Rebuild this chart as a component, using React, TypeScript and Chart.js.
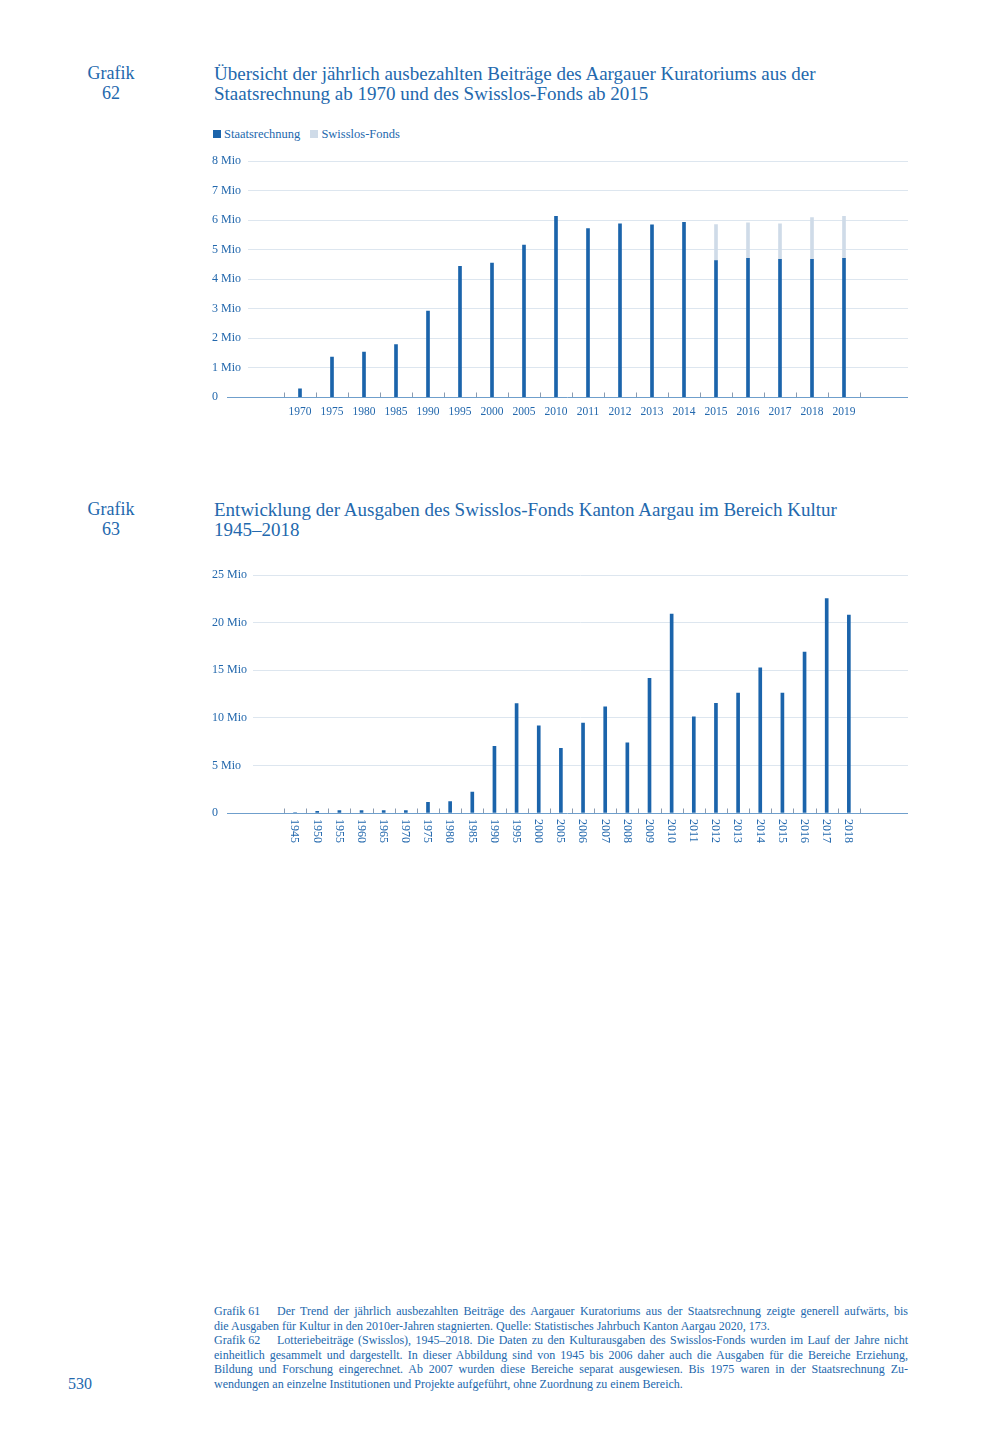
import { useEffect, useRef } from 'react';
import { Chart, registerables } from 'chart.js';

Chart.register(...registerables);

const FONT = '"Liberation Serif", "Times New Roman", serif';
const BLUE = '#1b64ab';
const TEXT = '#2368ad';
const LIGHT = '#cfdbe8';
const GRID = '#dde6ef';
const AXIS = '#6f9fcc';
const TICK = '#8a9bb0';

// Grafik 62: Beiträge in Mio CHF
const years62 = ['1970', '1975', '1980', '1985', '1990', '1995', '2000', '2005', '2010',
  '2011', '2012', '2013', '2014', '2015', '2016', '2017', '2018', '2019'];
const staatsrechnung = [0.28, 1.36, 1.53, 1.78, 2.92, 4.44, 4.55, 5.16, 6.13,
  5.72, 5.88, 5.84, 5.93, 4.63, 4.71, 4.67, 4.67, 4.71];
const swisslosFonds = [null, null, null, null, null, null, null, null, null,
  null, null, null, null, 1.22, 1.2, 1.21, 1.42, 1.42];
const yMax62 = 8;
const xRange62 = [-1.625, 19];

// Grafik 63: Ausgaben Swisslos-Fonds Kultur in Mio CHF
const years63 = ['1945', '1950', '1955', '1960', '1965', '1970', '1975', '1980', '1985', '1990',
  '1995', '2000', '2005', '2006', '2007', '2008', '2009', '2010', '2011', '2012', '2013',
  '2014', '2015', '2016', '2017', '2018'];
const ausgaben63 = [0.05, 0.18, 0.25, 0.25, 0.25, 0.25, 1.12, 1.19, 2.2, 7.0,
  11.5, 9.17, 6.8, 9.45, 11.17, 7.39, 14.15, 20.9, 10.12, 11.52, 12.6,
  15.27, 12.6, 16.91, 22.55, 20.8];
const yMax63 = 25;
const xRange63 = [-1.9, 27.67];

const mio = (v: number) => (v === 0 ? '0' : `${v} Mio`);

// baseline from under the "0" label and small marks between the categories
function axisMarks(baseOffset: number, count: number) {
  return {
    id: 'axisMarks',
    afterDatasetsDraw(chart: any) {
      const { ctx, chartArea } = chart;
      const xs = chart.scales.x;
      const y0 = Math.round(chart.scales.y.getPixelForValue(0)) + 0.5;
      ctx.save();
      ctx.lineWidth = 1;
      ctx.strokeStyle = TICK;
      for (let i = 0; i <= count; i++) {
        const x = Math.round(xs.getPixelForValue(i - 0.5)) + 0.5;
        ctx.beginPath();
        ctx.moveTo(x, y0);
        ctx.lineTo(x, y0 - 5);
        ctx.stroke();
      }
      ctx.strokeStyle = AXIS;
      ctx.beginPath();
      ctx.moveTo(chartArea.left - baseOffset, y0);
      ctx.lineTo(chartArea.right, y0);
      ctx.stroke();
      ctx.restore();
    },
  };
}

// vertical year labels, reading downwards
const verticalLabels = {
  id: 'verticalLabels',
  afterDraw(chart: any) {
    const { ctx } = chart;
    const xs = chart.scales.x;
    const y0 = chart.scales.y.getPixelForValue(0);
    ctx.save();
    ctx.font = `12px ${FONT}`;
    ctx.fillStyle = TEXT;
    ctx.textAlign = 'left';
    ctx.textBaseline = 'middle';
    years63.forEach((label, i) => {
      ctx.save();
      ctx.translate(xs.getPixelForValue(i) - 0.5, y0 + 6);
      ctx.rotate(Math.PI / 2);
      ctx.fillText(label, 0, 0);
      ctx.restore();
    });
    ctx.restore();
  },
};

function yAxis(max: number, step: number, width: number) {
  return {
    min: 0,
    max,
    border: { display: false },
    grid: {
      drawTicks: false,
      color: (c: any) => (c.tick && c.tick.value === 0 ? 'rgba(0,0,0,0)' : GRID),
    },
    ticks: {
      stepSize: step,
      crossAlign: 'far' as const,
      padding: 0,
      color: TEXT,
      font: { family: FONT, size: 12 },
      callback: (v: any) => mio(Number(v)),
    },
    afterFit: (s: any) => {
      s.width = width;
    },
  };
}

function Chart62() {
  const ref = useRef<HTMLCanvasElement>(null);
  useEffect(() => {
    if (!ref.current) return;
    const chart = new Chart(ref.current, {
      type: 'bar',
      data: {
        datasets: [
          {
            label: 'Staatsrechnung',
            data: staatsrechnung.map((v, i) => ({ x: i, y: v })),
            backgroundColor: BLUE,
            barThickness: 3,
          },
          {
            label: 'Swisslos-Fonds',
            data: swisslosFonds.map((v, i) => ({ x: i, y: v })),
            backgroundColor: LIGHT,
            barThickness: 3,
          },
        ],
      },
      options: {
        animation: false,
        responsive: true,
        maintainAspectRatio: false,
        layout: { padding: { left: 0, right: 4, top: 0, bottom: 0 } },
        plugins: { legend: { display: false }, tooltip: { enabled: false } },
        scales: {
          x: {
            type: 'linear',
            offset: false,
            stacked: true,
            min: xRange62[0],
            max: xRange62[1],
            border: { display: false },
            grid: { display: false, drawTicks: false },
            afterBuildTicks: (s: any) => {
              s.ticks = years62.map((_, i) => ({ value: i }));
            },
            ticks: {
              autoSkip: false,
              maxRotation: 0,
              padding: 8,
              color: TEXT,
              font: { family: FONT, size: 11.5 },
              callback: (v: any) => years62[v] ?? '',
            },
          },
          y: { ...yAxis(yMax62, 1, 36), stacked: true },
        },
      },
      plugins: [axisMarks(21, years62.length)],
    });
    return () => chart.destroy();
  }, []);
  return <canvas ref={ref} />;
}

function Chart63() {
  const ref = useRef<HTMLCanvasElement>(null);
  useEffect(() => {
    if (!ref.current) return;
    const chart = new Chart(ref.current, {
      type: 'bar',
      data: {
        datasets: [
          {
            label: 'Ausgaben Kultur',
            data: ausgaben63.map((v, i) => ({ x: i, y: v })),
            backgroundColor: BLUE,
            barThickness: 3,
          },
        ],
      },
      options: {
        animation: false,
        responsive: true,
        maintainAspectRatio: false,
        layout: { padding: { left: 0, right: 4, top: 0, bottom: 0 } },
        plugins: { legend: { display: false }, tooltip: { enabled: false } },
        scales: {
          x: {
            type: 'linear',
            offset: false,
            min: xRange63[0],
            max: xRange63[1],
            border: { display: false },
            grid: { display: false, drawTicks: false },
            ticks: { display: false },
            afterFit: (s: any) => {
              s.height = 34;
            },
          },
          y: yAxis(yMax63, 5, 41),
        },
      },
      plugins: [axisMarks(26, years63.length), verticalLabels],
    });
    return () => chart.destroy();
  }, []);
  return <canvas ref={ref} />;
}

const abs = (left: number, top: number, extra: any = {}) => ({
  position: 'absolute' as const,
  left,
  top,
  ...extra,
});

function Heading({ top, num, lines }: { top: number; num: string; lines: string[] }) {
  return (
    <>
      <div style={abs(80, top, { width: 62, textAlign: 'center', fontSize: 18, lineHeight: '19.5px' })}>
        Grafik
        <br />
        {num}
      </div>
      <div style={abs(214, top, { fontSize: 19, lineHeight: '19.5px', whiteSpace: 'nowrap' })}>
        {lines.map((l) => (
          <div key={l}>{l}</div>
        ))}
      </div>
    </>
  );
}

function LegendItem({ color, label }: { color: string; label: string }) {
  return (
    <span style={{ display: 'inline-flex', alignItems: 'center', marginRight: 10 }}>
      <span style={{ width: 8, height: 8, background: color, marginRight: 3, display: 'inline-block' }} />
      {label}
    </span>
  );
}

const captionLines: [string, string, boolean][] = [
  ['Grafik 61', 'Der Trend der jährlich ausbezahlten Beiträge des Aargauer Kuratoriums aus der Staatsrechnung zeigte generell aufwärts, bis', true],
  ['', 'die Ausgaben für Kultur in den 2010er-Jahren stagnierten. Quelle: Statistisches Jahrbuch Kanton Aargau 2020, 173.', false],
  ['Grafik 62', 'Lotteriebeiträge (Swisslos), 1945–2018. Die Daten zu den Kulturausgaben des Swisslos-Fonds wurden im Lauf der Jahre nicht', true],
  ['', 'einheitlich gesammelt und dargestellt. In dieser Abbildung sind von 1945 bis 2006 daher auch die Ausgaben für die Bereiche Erziehung,', true],
  ['', 'Bildung und Forschung eingerechnet. Ab 2007 wurden diese Bereiche separat ausgewiesen. Bis 1975 waren in der Staatsrechnung Zu-', true],
  ['', 'wendungen an einzelne Institutionen und Projekte aufgeführt, ohne Zuordnung zu einem Bereich.', false],
];

export default function App() {
  return (
    <div
      style={{
        position: 'absolute',
        left: 0,
        top: 0,
        width: 1000,
        height: 1454,
        background: '#fff',
        color: TEXT,
        fontFamily: FONT,
      }}
    >
      <Heading
        top={64}
        num="62"
        lines={[
          'Übersicht der jährlich ausbezahlten Beiträge des Aargauer Kuratoriums aus der',
          'Staatsrechnung ab 1970 und des Swisslos-Fonds ab 2015',
        ]}
      />
      <div style={abs(213, 126, { fontSize: 12.5, lineHeight: '16px', whiteSpace: 'nowrap' })}>
        <LegendItem color={BLUE} label="Staatsrechnung" />
        <LegendItem color={LIGHT} label="Swisslos-Fonds" />
      </div>
      <div style={abs(212, 154, { width: 700, height: 273 })}>
        <Chart62 />
      </div>

      <Heading
        top={500}
        num="63"
        lines={['Entwicklung der Ausgaben des Swisslos-Fonds Kanton Aargau im Bereich Kultur', '1945–2018']}
      />
      <div style={abs(212, 568, { width: 700, height: 279 })}>
        <Chart63 />
      </div>

      <div style={abs(214, 1304, { width: 694, fontSize: 12, lineHeight: '14.6px' })}>
        {captionLines.map(([lab, text, full], i) => (
          <div key={i} style={{ textAlign: full ? 'justify' : 'left', textAlignLast: full ? 'justify' : 'left', whiteSpace: 'nowrap' }}>
            {lab && (
              <span style={{ display: 'inline-block', width: 63, textAlign: 'left', textAlignLast: 'left' }}>{lab}</span>
            )}
            {text}
          </div>
        ))}
      </div>
      <div style={abs(68, 1374, { fontSize: 16, lineHeight: '20px' })}>530</div>
    </div>
  );
}
